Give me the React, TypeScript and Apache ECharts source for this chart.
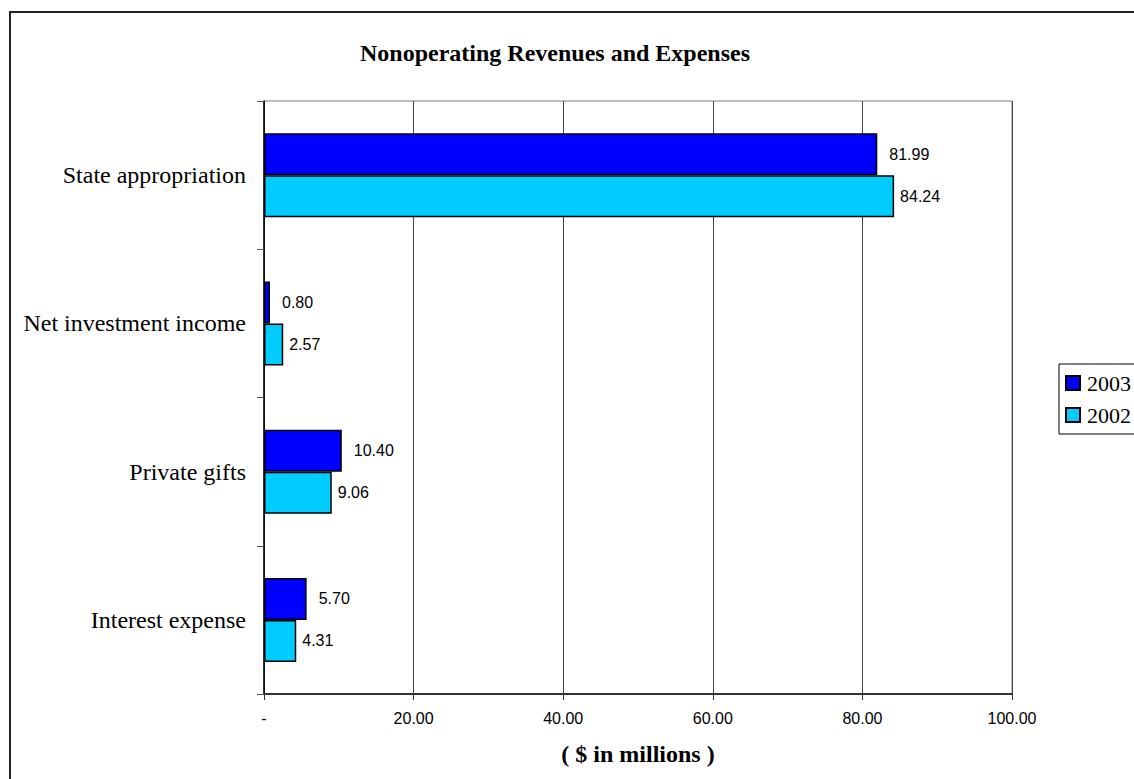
import React, { useEffect, useRef } from "react";
import * as echarts from "echarts";

const categories = ["Interest expense", "Private gifts", "Net investment income", "State appropriation"];
const values2003 = [5.7, 10.4, 0.8, 81.99];
const values2002 = [4.31, 9.06, 2.57, 84.24];
const xTicks = { min: 0, max: 100, interval: 20 };

const SERIF = "'Liberation Serif', 'Times New Roman', serif";
const SANS = "'Liberation Sans', Arial, sans-serif";

export default function App() {
  const ref = useRef<HTMLDivElement>(null);
  useEffect(() => {
    if (!ref.current) return;
    const chart = echarts.init(ref.current, null, { renderer: "svg" });
    chart.setOption({
      animation: false,
      backgroundColor: "#fff",
      title: {
        text: "Nonoperating Revenues and Expenses",
        left: 550,
        textAlign: "center",
        top: 36,
        textStyle: { fontFamily: SERIF, fontSize: 24, fontWeight: "bold", color: "#000" },
      },
      graphic: [
        {
          type: "rect",
          shape: { x: 10, y: 12, width: 1300, height: 900 },
          style: { fill: "none", stroke: "#222", lineWidth: 2 },
          silent: true,
          z: 100,
        },
      ],
      legend: {
        data: ["2003", "2002"],
        orient: "vertical",
        left: 1059,
        top: 364,
        padding: [8, 30, 8, 6],
        itemGap: 10,
        itemWidth: 14,
        itemHeight: 14,
        borderColor: "#000",
        borderWidth: 1,
        icon: "rect",
        textStyle: { fontFamily: SERIF, fontSize: 22, color: "#000", padding: [0, 0, 0, 2] },
      },
      grid: {
        left: 264,
        top: 101,
        right: 122,
        bottom: 85,
        show: true,
        borderColor: "#808080",
        borderWidth: 1,
        backgroundColor: "#fff",
      },
      xAxis: {
        type: "value",
        min: xTicks.min,
        max: xTicks.max,
        interval: xTicks.interval,
        name: "( $ in millions )",
        nameLocation: "middle",
        nameGap: 48,
        nameTextStyle: { fontFamily: SERIF, fontSize: 24, fontWeight: "bold", color: "#000" },
        axisLine: { show: true, lineStyle: { color: "#333", width: 2 } },
        axisTick: { show: true, length: 6, lineStyle: { color: "#333" } },
        splitLine: { show: true, lineStyle: { color: "#444", width: 1 } },
        axisLabel: {
          margin: 16,
          fontFamily: SANS,
          fontSize: 16,
          color: "#000",
          formatter: (v: number) => (v === 0 ? "-" : v.toFixed(2)),
        },
      },
      yAxis: {
        type: "category",
        data: categories,
        axisLine: { show: true, lineStyle: { color: "#000", width: 1.5 } },
        axisTick: { show: true, length: 7, lineStyle: { color: "#555" } },
        axisLabel: { margin: 18, fontFamily: SERIF, fontSize: 24, color: "#000" },
      },
      series: [
        {
          name: "2003",
          type: "bar",
          data: values2003,
          barWidth: 42,
          barGap: "0%",
          itemStyle: { color: "#0000FF", borderColor: "#000", borderWidth: 1.5 },
          label: {
            show: true,
            position: "right",
            distance: 12,
            fontFamily: SANS,
            fontSize: 16,
            color: "#000",
            formatter: (p: any) => Number(p.value).toFixed(2),
          },
        },
        {
          name: "2002",
          type: "bar",
          data: values2002,
          barWidth: 42,
          barGap: "0%",
          itemStyle: { color: "#00CCFF", borderColor: "#000", borderWidth: 1.5 },
          label: {
            show: true,
            position: "right",
            distance: 6,
            fontFamily: SANS,
            fontSize: 16,
            color: "#000",
            formatter: (p: any) => Number(p.value).toFixed(2),
          },
        },
      ],
    });
    return () => chart.dispose();
  }, []);
  return (
    <div
      ref={ref}
      style={{ position: "absolute", left: 0, top: 0, width: 1134, height: 779, background: "#fff" }}
    />
  );
}
